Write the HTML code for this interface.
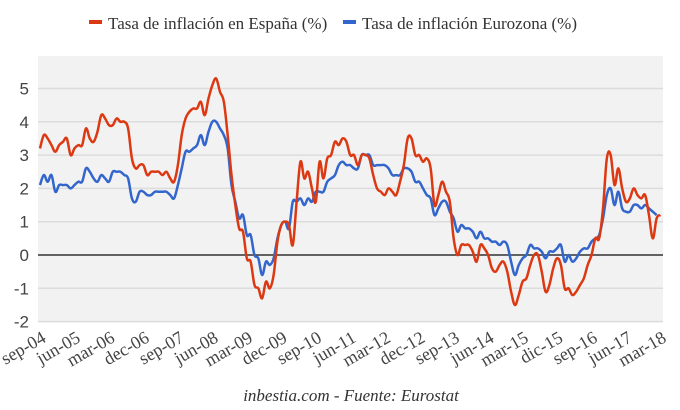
<!DOCTYPE html>
<html><head><meta charset="utf-8"><style>
html,body{margin:0;padding:0;background:#fff;}
svg{display:block;font-family:"Liberation Sans",sans-serif;}
</style></head><body>
<svg id="s" width="680" height="410" viewBox="0 0 680 410">
<rect x="38" y="56" width="625" height="266" fill="#f2f2f2"/>
<g stroke="#dcdcdc" stroke-width="1.5">
<line x1="38" x2="663" y1="88.5" y2="88.5"/><line x1="38" x2="663" y1="121.8" y2="121.8"/>
<line x1="38" x2="663" y1="155.1" y2="155.1"/><line x1="38" x2="663" y1="188.4" y2="188.4"/>
<line x1="38" x2="663" y1="221.7" y2="221.7"/><line x1="38" x2="663" y1="288.3" y2="288.3"/>
<line x1="38" x2="663" y1="321.6" y2="321.6"/>
</g>
<line x1="38" x2="663" y1="255" y2="255" stroke="#333" stroke-width="1.5"/>
<g font-size="17" fill="#444" text-anchor="end">
<text x="29" y="94.5">5</text><text x="29" y="127.8">4</text><text x="29" y="161.1">3</text>
<text x="29" y="194.4">2</text><text x="29" y="227.7">1</text><text x="29" y="261">0</text>
<text x="29" y="294.3">-1</text><text x="29" y="327.6">-2</text>
</g>
<g id="xl" font-family="Liberation Serif,serif" font-size="18" fill="#444" text-anchor="end"></g>
<path id="pb" fill="none" stroke="#3366cc" stroke-width="2.5" stroke-linejoin="round"/>
<path id="pr" fill="none" stroke="#dc3912" stroke-width="2.5" stroke-linejoin="round"/>
<rect x="89" y="20" width="13" height="4" fill="#dc3912"/>
<text x="108" y="29" font-family="Liberation Serif,serif" font-size="17" fill="#333">Tasa de inflación en España (%)</text>
<rect x="343" y="20" width="13" height="4" fill="#3366cc"/>
<text x="362" y="29" font-family="Liberation Serif,serif" font-size="17" fill="#333">Tasa de inflación Eurozona (%)</text>
<text x="351" y="401" text-anchor="middle" font-family="Liberation Serif,serif" font-style="italic" font-size="17" fill="#333">inbestia.com - Fuente: Eurostat</text>
</svg>
<script>
var es=[3.2,3.6,3.5,3.3,3.1,3.3,3.4,3.5,3.0,3.2,3.3,3.3,3.8,3.5,3.4,3.7,4.2,4.1,3.9,3.9,4.1,4.0,4.0,3.8,2.9,2.6,2.7,2.7,2.4,2.5,2.5,2.5,2.4,2.5,2.3,2.2,2.7,3.6,4.1,4.3,4.4,4.4,4.6,4.2,4.7,5.1,5.3,4.9,4.6,3.6,2.4,1.5,0.8,0.7,-0.1,-0.2,-0.9,-1.0,-1.3,-0.8,-1.0,-0.6,0.4,0.9,1.0,0.9,0.3,1.6,2.8,2.3,2.5,2.0,1.6,2.8,2.3,2.9,3.0,3.4,3.3,3.5,3.4,3.0,3.0,2.7,3.0,3.0,2.9,2.4,2.0,1.9,1.8,2.0,1.9,1.8,2.2,2.7,3.5,3.5,3.0,3.0,2.8,2.9,2.6,1.5,1.8,2.2,1.9,1.6,0.5,0.0,0.3,0.3,0.3,0.1,-0.2,0.3,0.2,0.0,-0.4,-0.5,-0.3,-0.2,-0.5,-1.1,-1.5,-1.2,-0.8,-0.7,-0.3,0.0,0.0,-0.5,-1.1,-0.9,-0.4,-0.1,-0.3,-1.0,-1.0,-1.2,-1.1,-0.9,-0.7,-0.3,0.0,0.5,0.5,1.4,2.9,3.0,2.1,2.6,2.0,1.6,1.7,2.0,1.8,1.7,1.8,1.2,0.5,1.1,1.2];
var ez=[2.1,2.4,2.2,2.4,1.9,2.1,2.1,2.1,2.0,2.1,2.2,2.2,2.6,2.5,2.3,2.2,2.4,2.3,2.2,2.5,2.5,2.5,2.4,2.3,1.7,1.6,1.9,1.9,1.8,1.8,1.9,1.9,1.9,1.9,1.8,1.7,2.1,2.6,3.1,3.1,3.2,3.3,3.6,3.3,3.7,4.0,4.0,3.8,3.6,3.2,2.1,1.6,1.1,1.2,0.6,0.6,0.0,-0.1,-0.6,-0.2,-0.3,-0.1,0.5,0.9,1.0,0.8,1.6,1.6,1.7,1.5,1.7,1.6,1.9,1.9,1.9,2.2,2.3,2.4,2.7,2.8,2.7,2.7,2.6,2.6,3.0,3.0,3.0,2.7,2.7,2.7,2.7,2.6,2.4,2.4,2.4,2.6,2.6,2.5,2.2,2.2,2.0,1.8,1.7,1.2,1.4,1.6,1.6,1.3,1.1,0.7,0.9,0.8,0.8,0.7,0.5,0.7,0.5,0.5,0.4,0.4,0.3,0.4,0.3,-0.2,-0.6,-0.3,-0.1,0.0,0.3,0.2,0.2,0.1,-0.1,0.1,0.1,0.2,0.3,-0.2,0.0,-0.2,-0.1,0.1,0.2,0.2,0.4,0.5,0.6,1.1,1.8,2.0,1.5,1.9,1.4,1.3,1.3,1.5,1.5,1.4,1.5,1.4,1.3,1.2];
function X(m){return 40+m*3.83}function Y(v){return 255-v*33.3}
function path(d){var p=d.map(function(v,i){return[X(i),Y(v)]});var s="M"+p[0][0]+","+p[0][1];
for(var i=0;i<p.length-1;i++){var a=p[i-1]||p[i],b=p[i],c=p[i+1],e=p[i+2]||c;var t=0.18;
s+=" C"+(b[0]+(c[0]-a[0])*t)+","+(b[1]+(c[1]-a[1])*t)+" "+(c[0]-(e[0]-b[0])*t)+","+(c[1]-(e[1]-b[1])*t)+" "+c[0]+","+c[1];}return s;}
document.getElementById('pr').setAttribute('d',path(es));
document.getElementById('pb').setAttribute('d',path(ez));
var L=["sep-04","jun-05","mar-06","dec-06","sep-07","jun-08","mar-09","dec-09","sep-10","jun-11","mar-12","dec-12","sep-13","jun-14","mar-15","dic-15","sep-16","jun-17","mar-18"];
var g=document.getElementById('xl'),h="";
for(var k=0;k<L.length;k++){var x=X(k*9)+7,y=341;h+='<text transform="translate('+x+','+y+') rotate(-30)">'+L[k]+'</text>';}
g.innerHTML=h;
</script>
</body></html>
